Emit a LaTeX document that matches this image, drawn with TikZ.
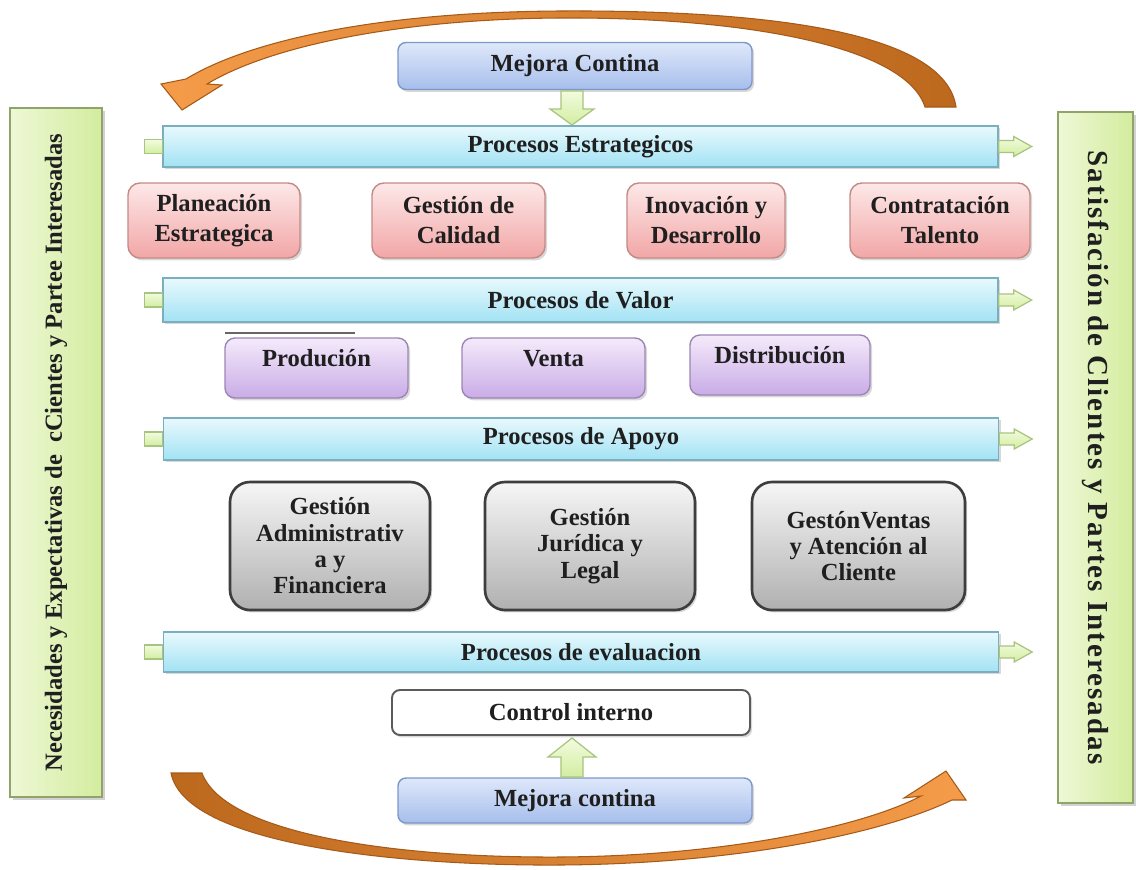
\documentclass[tikz,border=0pt]{standalone}
\usepackage{fontspec}
\setmainfont{Liberation Serif}
\newfontfamily\widefont[LetterSpace=7]{Liberation Serif}
\usetikzlibrary{shadows}
\newlength{\pxl}\setlength{\pxl}{0.02cm}

\definecolor{barline}{HTML}{7AAFBE}
\definecolor{bartop}{HTML}{E8F9FD}
\definecolor{barbot}{HTML}{A2E2F4}
\definecolor{blueline}{HTML}{7D97C9}
\definecolor{bluetop}{HTML}{DFE8FA}
\definecolor{bluebot}{HTML}{A6BEEC}
\definecolor{redline}{HTML}{C48A86}
\definecolor{redtop}{HTML}{FDE8E8}
\definecolor{redbot}{HTML}{F2A6A6}
\definecolor{purline}{HTML}{9C86B5}
\definecolor{purtop}{HTML}{F4EAFB}
\definecolor{purbot}{HTML}{C9ACE6}
\definecolor{grayline}{HTML}{3E3E3E}
\definecolor{graytop}{HTML}{F6F6F6}
\definecolor{graybot}{HTML}{B0B0B0}
\definecolor{sideline}{HTML}{8FA36A}
\definecolor{sidelight}{HTML}{EEF8D6}
\definecolor{sidedark}{HTML}{D3EC9E}
\definecolor{arrline}{HTML}{A9C47E}
\definecolor{arrtop}{HTML}{F3FBE0}
\definecolor{arrbot}{HTML}{D2EDA0}
\definecolor{oradark}{HTML}{BC681D}
\definecolor{oralight}{HTML}{F59C4A}
\definecolor{oraline}{HTML}{A65A17}

\tikzset{
  shade/.style={drop shadow={shadow xshift=1.2pt,shadow yshift=-1.4pt,opacity=0.3}},
  txt/.style={font=\bfseries\fontsize{14}{16}\selectfont, align=center, text=black!88},
  bar/.style={txt, shade, draw=barline, line width=0.8pt, top color=bartop, bottom color=barbot,
    minimum width=835\pxl, inner sep=0pt},
  bluebox/.style={txt, shade, draw=blueline, line width=0.8pt, top color=bluetop, bottom color=bluebot,
    rounded corners=8\pxl, minimum width=354\pxl, minimum height=47\pxl},
  redbox/.style={txt, font=\bfseries\fontsize{14}{17}\selectfont, shade, draw=redline, line width=0.8pt,
    top color=redtop, bottom color=redbot, rounded corners=12\pxl, minimum height=75\pxl},
  purbox/.style={txt, shade, draw=purline, line width=0.8pt, top color=purtop, bottom color=purbot,
    rounded corners=10\pxl, minimum width=183\pxl, minimum height=60\pxl, text height=10pt, text depth=12pt},
  graybox/.style={txt, font=\bfseries\fontsize{14}{15}\selectfont, shade, draw=grayline, line width=1.5pt,
    top color=graytop, bottom color=graybot, rounded corners=20\pxl, minimum height=128\pxl},
  ctrlbox/.style={txt, shade, draw=grayline!85, line width=1.1pt, fill=white, rounded corners=8\pxl,
    minimum width=358\pxl, minimum height=45\pxl},
  sidebox/.style={txt, drop shadow={shadow xshift=1.5pt,shadow yshift=-1.5pt,opacity=0.35},
    draw=sideline, line width=0.9pt, left color=sidelight, right color=sidedark, inner sep=0pt},
  garrow/.style={draw=arrline, line width=0.7pt, top color=arrtop, bottom color=arrbot},
  curvearrow/.style={draw=oraline, line width=0.6pt},
}

\newcommand{\rightarr}[1]{%
  \path[garrow] (#1) ++(0,-6) -- ++(15,0) -- ++(0,-4) -- ++(18,10) -- ++(-18,10) -- ++(0,-4) -- ++(-15,0) -- cycle;}
\newcommand{\leftstub}[1]{%
  \path[garrow] (#1) ++(-18,-7) rectangle ++(18,14);}

\begin{document}
\begin{tikzpicture}[x=0.02cm,y=-0.02cm]
\useasboundingbox[fill=white] (0,0) rectangle (1136,869);

% side panels
\node[sidebox, minimum width=689\pxl, minimum height=92\pxl, rotate=90] (needs) at (56,452.5)
  {Necesidades y Expectativas de~ cCientes y Partee Interesadas};
\node[sidebox, minimum width=691\pxl, minimum height=75\pxl, rotate=-90,
      font=\bfseries\fontsize{16.5}{18}\selectfont] (satis) at (1095.5,457.5)
  {\widefont Satisfación de Clientes y Partes Interesadas};

% curved feedback arrows
\path[curvearrow, left color=oralight, right color=oradark]
  (956,107) .. controls (945,30) and (760,10) .. (560,11)
  .. controls (380,12) and (250,40) .. (186,79)
  -- (161,84) -- (182,110) -- (222,85) -- (207,84)
  .. controls (270,46) and (400,19) .. (560,18)
  .. controls (740,17) and (905,45) .. (925,107) -- cycle;
\path[curvearrow, left color=oradark, right color=oralight]
  (171,773) .. controls (185,845) and (400,866) .. (560,865)
  .. controls (730,864) and (880,835) .. (952,800)
  -- (966,800) -- (946,771) -- (904,798) -- (921,796)
  .. controls (860,828) and (720,856) .. (560,857)
  .. controls (400,858) and (225,835) .. (202,773) -- cycle;

% top improvement box and arrow into the strategic bar
\node[bluebox] (mtop) at (575,66) {Mejora Contina};
\path[garrow] (561,91) -- (583,91) -- (583,109) -- (594,109) -- (572,125) -- (550,109) -- (561,109) -- cycle;

% process bars
\node[bar, minimum height=41\pxl] (bar1) at (580.5,146.5) {Procesos Estrategicos};
\node[bar, minimum height=44\pxl] (bar2) at (580.5,300) {Procesos de Valor};
\node[bar, minimum height=42\pxl] (bar3) at (581,439) {Procesos de Apoyo};
\node[bar, minimum height=40\pxl] (bar4) at (581,652) {Procesos de evaluacion};

\foreach \b in {bar1,bar2,bar3,bar4}{
  \leftstub{\b.west}
  \rightarr{\b.east}
}

% strategic processes
\node[redbox, minimum width=172\pxl] (plan) at (214,220.5) {Planeación\\Estrategica};
\node[redbox, minimum width=173\pxl] (cal)  at (458.5,220.5) {Gestión de\\Calidad};
\node[redbox, minimum width=158\pxl] (inov) at (706,220.5) {Inovación y\\Desarrollo};
\node[redbox, minimum width=180\pxl] (cont) at (940,220.5) {Contratación\\Talento};

% value processes
\draw[black!60, line width=0.9pt] (225,333) -- (355,333);
\node[purbox] (prod) at (316.5,368) {Produción};
\node[purbox] (vent) at (553.5,368) {Venta};
\node[purbox, minimum width=180\pxl] (dist) at (780,365) {Distribución};

% support processes
\node[graybox, minimum width=200\pxl] (adm) at (330,546) {Gestión\\Administrativ\\a y\\Financiera};
\node[graybox, minimum width=210\pxl] (jur) at (590,546) {Gestión\\Jurídica y\\Legal};
\node[graybox, minimum width=213\pxl] (ven) at (858.5,546) {GestónVentas\\y Atención al\\Cliente};

% evaluation
\node[ctrlbox] (ctrl) at (571,712.5) {Control interno};
\node[bluebox, minimum height=45\pxl] (mbot) at (575,800.5) {Mejora contina};
\path[garrow] (561,777) -- (583,777) -- (583,757) -- (596,757) -- (572,738) -- (548,757) -- (561,757) -- cycle;
\end{tikzpicture}
\end{document}
